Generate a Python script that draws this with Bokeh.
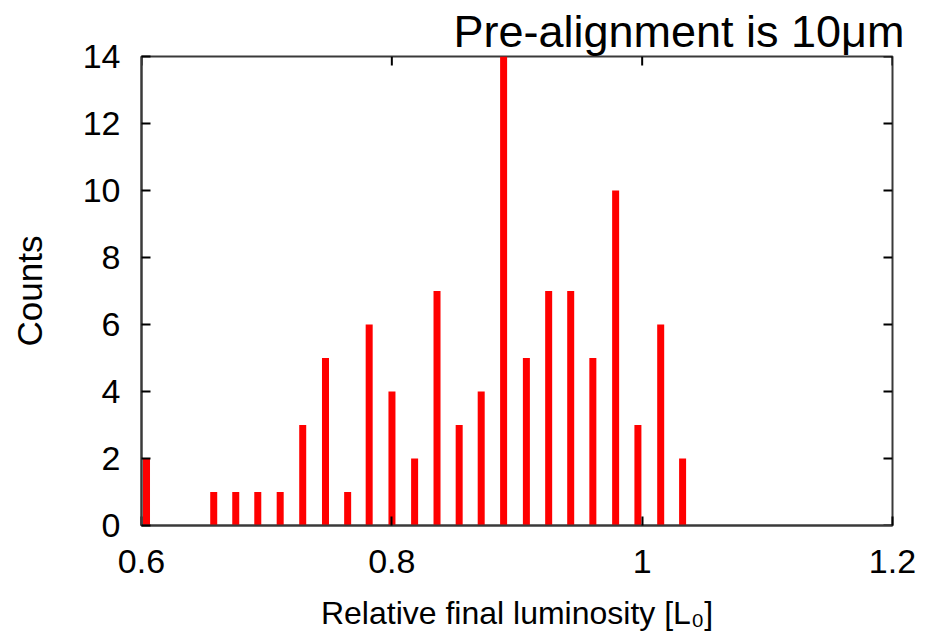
import math
from bokeh.plotting import figure
from bokeh.models import ColumnDataSource, FixedTicker, Range1d
from bokeh.embed import file_html
from bokeh.resources import INLINE

# Data
bin_centers = [0.6040, 0.6577, 0.6753, 0.6929, 0.7108, 0.7288, 0.7470, 0.7647,
               0.7819, 0.8001, 0.8182, 0.8361, 0.8538, 0.8714, 0.8893, 0.9075,
               0.9253, 0.9429, 0.9606, 0.9788, 0.9966, 1.0148, 1.0323]
counts = [2, 1, 1, 1, 1, 3, 5, 1, 6, 4, 2, 7, 3, 4, 14, 5, 7, 7, 5, 10, 3, 6, 2]
x_ticks = [0.6, 0.8, 1.0, 1.2]
x_tick_labels = ["0.6", "0.8", "1", "1.2"]
y_ticks = [0, 2, 4, 6, 8, 10, 12, 14]
title_text = "Pre-alignment is 10\u03bcm"
x_label = "Relative final luminosity [L\u2080]"
y_label = "Counts"

SANS = "'Liberation Sans', sans-serif"
FRAME = "#3a3a3a"

x_min, x_max = x_ticks[0], x_ticks[-1]
y_min, y_max = y_ticks[0], y_ticks[-1]

p = figure(frame_width=751, frame_height=469,
           x_range=Range1d(x_min, x_max), y_range=Range1d(y_min, y_max),
           output_backend="svg", toolbar_location=None,
           min_border_left=141, min_border_right=39,
           min_border_top=56, min_border_bottom=105,
           title=title_text)
p.background_fill_color = "white"
p.border_fill_color = "white"
p.outline_line_color = FRAME
p.outline_line_width = 2
p.xgrid.visible = False
p.ygrid.visible = False

p.title.align = "right"
p.title.offset = -12
p.title.standoff = 0
p.title.text_font = SANS
p.title.text_font_size = "45px"
p.title.text_font_style = "normal"
p.title.text_color = "black"

src = ColumnDataSource(dict(x=bin_centers, top=counts))
p.vbar(x="x", top="top", bottom=0, width=0.0056, source=src,
       fill_color="#ff0000", line_color=None)

# mirrored inward ticks on the right and top sides of the box
p.ray(x=[x_max] * len(y_ticks), y=y_ticks, length=9, length_units="screen",
      angle=math.pi, line_color="black", line_width=2)
p.ray(x=x_ticks, y=[y_max] * len(x_ticks), length=9, length_units="screen",
      angle=-math.pi / 2, line_color="black", line_width=2)

def style_axis(ax, ticks):
    ax.ticker = FixedTicker(ticks=ticks)
    ax.major_tick_in = 9
    ax.major_tick_out = 0
    ax.minor_tick_in = 0
    ax.minor_tick_out = 0
    ax.major_tick_line_color = "black"
    ax.major_tick_line_width = 2
    ax.axis_line_color = FRAME
    ax.axis_line_width = 2

xa = p.xaxis[0]
style_axis(xa, x_ticks)
xa.major_label_overrides = {t: l for t, l in zip(x_ticks, x_tick_labels)}
xa.major_label_text_font = SANS
xa.major_label_text_font_size = "34px"
xa.major_label_text_color = "black"
xa.major_label_standoff = 24
xa.axis_label = x_label
xa.axis_label_text_font = SANS
xa.axis_label_text_font_size = "32px"
xa.axis_label_text_font_style = "normal"
xa.axis_label_text_color = "black"
xa.axis_label_standoff = 19

ya = p.yaxis[0]
style_axis(ya, y_ticks)
ya.major_label_text_font = SANS
ya.major_label_text_font_size = "34px"
ya.major_label_text_color = "black"
ya.major_label_standoff = 21
ya.axis_label = y_label
ya.axis_label_text_font = SANS
ya.axis_label_text_font_size = "35px"
ya.axis_label_text_font_style = "normal"
ya.axis_label_text_color = "black"
ya.axis_label_standoff = 31

open("out.html", "w").write(file_html(p, INLINE))
